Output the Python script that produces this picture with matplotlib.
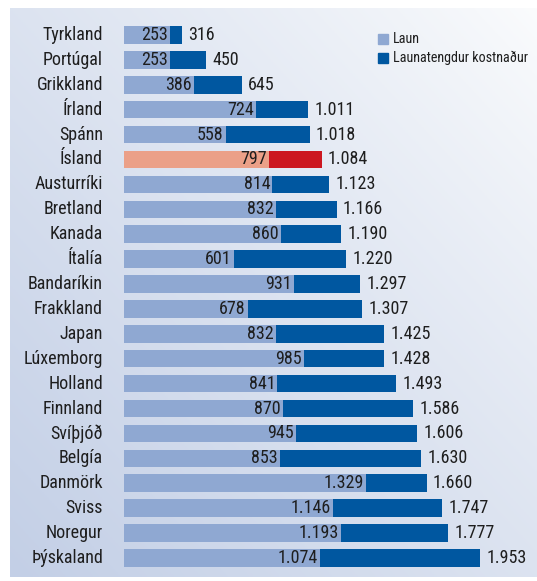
import os
import numpy as np
import matplotlib.pyplot as plt
from matplotlib import font_manager as fm
from matplotlib.patches import Rectangle


def set_condensed():
    # look for a narrow/condensed regular face among installed fonts
    candidates = []
    for path in fm.findSystemFonts():
        name = os.path.basename(path).lower()
        if ("condensed" in name or "narrow" in name) and "bold" not in name \
                and "italic" not in name and "light" not in name and "semi" not in name:
            candidates.append(path)
    if not candidates:
        return None

    def score(path):
        name = os.path.basename(path).lower()
        order = ["robotocondensed", "roboto_condensed", "liberationsansnarrow",
                 "dejavusanscondensed", "opensans", "noto"]
        for k, o in enumerate(order):
            if o in name.replace("-", "").replace(" ", ""):
                return (k, len(name))
        return (len(order), len(name))

    best = sorted(candidates, key=score)[0]
    fm.fontManager.addfont(best)
    fname = fm.FontProperties(fname=best).get_name()
    plt.rcParams["font.family"] = [fname, "DejaVu Sans"]
    return best


found = set_condensed()
fs = 13 if found else 10.5

countries = ["Tyrkland", "Portúgal", "Grikkland", "Írland", "Spánn", "Ísland",
             "Austurríki", "Bretland", "Kanada", "Ítalía", "Bandaríkin", "Frakkland",
             "Japan", "Lúxemborg", "Holland", "Finnland", "Svíþjóð", "Belgía",
             "Danmörk", "Sviss", "Noregur", "Þýskaland"]
laun = [253, 253, 386, 724, 558, 797, 814, 832, 860, 601, 931, 678,
        832, 985, 841, 870, 945, 853, 1329, 1146, 1193, 1074]
total = [316, 450, 645, 1011, 1018, 1084, 1123, 1166, 1190, 1220, 1297, 1307,
         1425, 1428, 1493, 1586, 1606, 1630, 1660, 1747, 1777, 1953]
highlight = "Ísland"

light, dark = "#8fa8d2", "#0057a0"
light_hi, dark_hi = "#eba088", "#cc1720"
txt = "#1e1e1e"

W, H = 537, 581
fig = plt.figure(figsize=(W / 100, H / 100), dpi=100)

# gradient panel: near white top-right, bluish bottom-left
bg = fig.add_axes([10 / W, 4 / H, 527 / W, 569 / H])
yy, xx = np.mgrid[0:1:200j, 0:1:200j]
t = np.clip(0.5 * yy + 0.5 * (1 - xx), 0, 1)
c0 = np.array([0xfb, 0xfc, 0xfd]) / 255
c1 = np.array([0xc3, 0xcf, 0xe6]) / 255
img = c0 + (c1 - c0) * t[..., None] ** 0.85
bg.imshow(img, aspect="auto", extent=[0, 1, 0, 1], origin="upper")
bg.axis("off")

ax = fig.add_axes([124 / W, 4 / H, 413 / W, 573 / H])
ax.patch.set_alpha(0)
n = len(countries)
step = 24.9
top_off = (35 - 4) / step
ax.set_ylim(573 / step - top_off, -top_off)
ax.set_xlim(0, 413 / 0.1823)
ax.axis("off")


def fmt(v):
    return f"{v:,}".replace(",", ".")


for i, (c, l, tt) in enumerate(zip(countries, laun, total)):
    lc, dc = (light_hi, dark_hi) if c == highlight else (light, dark)
    ax.barh(i, l, height=0.7, color=lc, linewidth=0)
    ax.barh(i, tt - l, left=l, height=0.7, color=dc, linewidth=0)
    ax.text(l - 12, i, fmt(l), ha="right", va="center", fontsize=fs, color=txt)
    ax.text(tt + 35, i, fmt(tt), ha="left", va="center", fontsize=fs, color=txt)
    ax.text(-115, i, c, ha="right", va="center", fontsize=fs, color=txt)

# legend
fig.add_artist(Rectangle((378 / W, 1 - 44 / H), 10 / W, 10 / H, color=light, transform=fig.transFigure))
fig.add_artist(Rectangle((378 / W, 1 - 63 / H), 10 / W, 10 / H, color=dark, transform=fig.transFigure))
lfs = 10.2 if found else 9
fig.text(393 / W, 1 - 39 / H, "Laun", va="center", ha="left", fontsize=lfs, color=txt)
fig.text(393 / W, 1 - 58 / H, "Launatengdur kostnaður", va="center", ha="left", fontsize=lfs, color=txt)

fig.savefig("out.png", dpi=100)
